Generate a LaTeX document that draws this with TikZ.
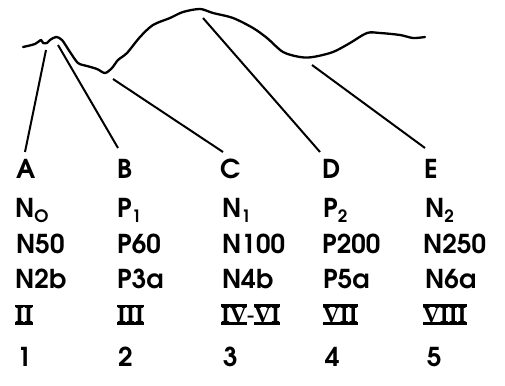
\documentclass[tikz,border=0pt]{standalone}
\usepackage{fontspec}
\setmainfont{TeX Gyre Adventor}
\newfontfamily\romfont{Liberation Serif}
\newcommand\sbs[1]{\raisebox{-0.2em}{\fontsize{17}{17}\selectfont #1}}
\newcommand\rbar[1]{\vbox{\hrule height 2.6pt\hbox{#1}\hrule height 2.6pt}}
\tikzset{
  lab/.style={anchor=base west, inner sep=0pt, font=\bfseries\fontsize{26}{26}\selectfont},
  rom/.style={anchor=base west, inner sep=0pt, font=\romfont\bfseries\fontsize{23}{23}\selectfont},
  wave/.style={line width=2.3pt, line cap=round, line join=round},
  conn/.style={line width=2pt}
}
\begin{document}
\begin{tikzpicture}[x=1pt,y=-1pt]
\useasboundingbox (0,0) rectangle (505,385);
\draw[wave] plot[smooth, tension=0.5] coordinates {
 (23,47) (35,44) (41,40) (43,43) (47,43) (50,40) (56,37) (62,40) (70,52)
 (78,63) (87,66) (97,69) (105,73) (112,68) (118,60) (127,53) (140,37)
 (153,25) (170,18) (183,12) (200,9) (213,13) (233,18) (253,28) (267,38)
 (283,52) (300,57) (313,57) (333,52) (350,43) (367,33) (380,33) (400,35)
 (413,38) (425,37)};
% top ends on the curve
\coordinate (ta) at (46,50);
\coordinate (tb) at (58,45);
\coordinate (tc) at (113,79);
\coordinate (td) at (203,18);
\coordinate (te) at (312,65);
% lower ends above the labels
\coordinate (ba) at (25,152);
\coordinate (bb) at (118,148);
\coordinate (bc) at (223,152);
\coordinate (bd) at (320,152);
\coordinate (be) at (425,148);
\draw[conn] (ta) -- (ba);
\draw[conn] (tb) -- (bb);
\draw[conn] (tc) -- (bc);
\draw[conn] (td) -- (bd);
\draw[conn] (te) -- (be);
% row 1
\node[lab] (A) at (16,178) {A};
\node[lab] (B) at (117,178) {B};
\node[lab] (C) at (220,178) {C};
\node[lab] (D) at (322,178) {D};
\node[lab] (E) at (424,178) {E};
% row 2
\node[lab] (n0) at (15,217) {N\sbs{O}};
\node[lab] (p1) at (117,217) {P\sbs{1}};
\node[lab] (n1) at (222,217) {N\sbs{1}};
\node[lab] (p2) at (323,217) {P\sbs{2}};
\node[lab] (n2) at (425,217) {N\sbs{2}};
% row 3
\node[lab] (n50) at (16,253) {N50};
\node[lab] (p60) at (117,253) {P60};
\node[lab] (n100) at (222,253) {N100};
\node[lab] (p200) at (322,253) {P200};
\node[lab] (n250) at (423,253) {N250};
% row 4
\node[lab] (n2b) at (15,288) {N2b};
\node[lab] (p3a) at (117,288) {P3a};
\node[lab] (n4b) at (222,288) {N4b};
\node[lab] (p5a) at (323,288) {P5a};
\node[lab] (n6a) at (425,288) {N6a};
% row 5 roman
\node[rom] (r2) at (15,325) {\rbar{II}};
\node[rom] (r3) at (117,325) {\rbar{III}};
\node[rom] (r46) at (221,325) {\rbar{IV}\raisebox{3pt}{-}\rbar{VI}};
\node[rom] (r7) at (323,325) {\rbar{VII}};
\node[rom] (r8) at (423,325) {\rbar{VIII}};
% row 6
\node[lab] (k1) at (17,366) {1};
\node[lab] (k2) at (118,366) {2};
\node[lab] (k3) at (223,366) {3};
\node[lab] (k4) at (325,366) {4};
\node[lab] (k5) at (427,366) {5};
\end{tikzpicture}
\end{document}
